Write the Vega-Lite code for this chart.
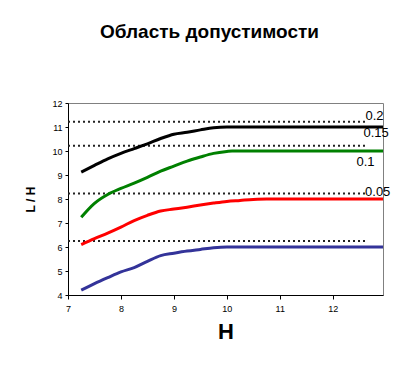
{
  "$schema": "https://vega.github.io/schema/vega-lite/v6.json",
  "width": 315,
  "height": 192,
  "autosize": "none",
  "padding": {"left": 68, "top": 103, "right": 29, "bottom": 75},
  "background": "white",
  "config": {
    "view": {"stroke": "#808080", "strokeWidth": 1},
    "font": "Liberation Sans"
  },
  "title": {
    "text": "Область допустимости",
    "fontSize": 19,
    "font": "Liberation Sans",
    "fontWeight": "bold",
    "letterSpacing": -1.3,
    "color": "black",
    "anchor": "middle",
    "offset": 57,
    "dx": -16
  },
  "datasets": {
    "curves": [
      {"s": "a", "x": 7.25, "y": 9.12}, {"s": "a", "x": 7.5, "y": 9.4}, {"s": "a", "x": 7.75, "y": 9.67}, {"s": "a", "x": 8.0, "y": 9.9}, {"s": "a", "x": 8.25, "y": 10.1}, {"s": "a", "x": 8.5, "y": 10.3}, {"s": "a", "x": 8.75, "y": 10.52}, {"s": "a", "x": 9.0, "y": 10.7}, {"s": "a", "x": 9.25, "y": 10.78}, {"s": "a", "x": 9.5, "y": 10.88}, {"s": "a", "x": 9.75, "y": 10.97}, {"s": "a", "x": 10.0, "y": 11.0}, {"s": "a", "x": 10.5, "y": 11.0}, {"s": "a", "x": 11.0, "y": 11.0}, {"s": "a", "x": 12.0, "y": 11.0}, {"s": "a", "x": 12.95, "y": 11.0},
      {"s": "b", "x": 7.25, "y": 7.24}, {"s": "b", "x": 7.5, "y": 7.82}, {"s": "b", "x": 7.75, "y": 8.19}, {"s": "b", "x": 8.0, "y": 8.44}, {"s": "b", "x": 8.25, "y": 8.66}, {"s": "b", "x": 8.5, "y": 8.9}, {"s": "b", "x": 8.75, "y": 9.16}, {"s": "b", "x": 9.0, "y": 9.37}, {"s": "b", "x": 9.25, "y": 9.58}, {"s": "b", "x": 9.5, "y": 9.75}, {"s": "b", "x": 9.75, "y": 9.9}, {"s": "b", "x": 10.0, "y": 9.98}, {"s": "b", "x": 10.1, "y": 10.0}, {"s": "b", "x": 11.0, "y": 10.0}, {"s": "b", "x": 12.0, "y": 10.0}, {"s": "b", "x": 12.95, "y": 10.0},
      {"s": "c", "x": 7.25, "y": 6.1}, {"s": "c", "x": 7.5, "y": 6.35}, {"s": "c", "x": 7.75, "y": 6.58}, {"s": "c", "x": 8.0, "y": 6.83}, {"s": "c", "x": 8.25, "y": 7.1}, {"s": "c", "x": 8.5, "y": 7.32}, {"s": "c", "x": 8.75, "y": 7.5}, {"s": "c", "x": 9.0, "y": 7.58}, {"s": "c", "x": 9.25, "y": 7.66}, {"s": "c", "x": 9.5, "y": 7.75}, {"s": "c", "x": 9.75, "y": 7.83}, {"s": "c", "x": 10.0, "y": 7.9}, {"s": "c", "x": 10.25, "y": 7.94}, {"s": "c", "x": 10.5, "y": 7.98}, {"s": "c", "x": 10.75, "y": 8.0}, {"s": "c", "x": 12.0, "y": 8.0}, {"s": "c", "x": 12.95, "y": 8.0},
      {"s": "d", "x": 7.25, "y": 4.2}, {"s": "d", "x": 7.5, "y": 4.47}, {"s": "d", "x": 7.75, "y": 4.72}, {"s": "d", "x": 8.0, "y": 4.96}, {"s": "d", "x": 8.25, "y": 5.14}, {"s": "d", "x": 8.5, "y": 5.4}, {"s": "d", "x": 8.75, "y": 5.64}, {"s": "d", "x": 9.0, "y": 5.74}, {"s": "d", "x": 9.25, "y": 5.83}, {"s": "d", "x": 9.5, "y": 5.9}, {"s": "d", "x": 9.75, "y": 5.97}, {"s": "d", "x": 10.0, "y": 6.0}, {"s": "d", "x": 11.0, "y": 6.0}, {"s": "d", "x": 12.0, "y": 6.0}, {"s": "d", "x": 12.95, "y": 6.0}
    ],
    "limits": [
      {"g": "0.2", "x": 7.0, "y": 11.22}, {"g": "0.2", "x": 12.64, "y": 11.22},
      {"g": "0.15", "x": 7.0, "y": 10.22}, {"g": "0.15", "x": 12.64, "y": 10.22},
      {"g": "0.1", "x": 7.0, "y": 8.23}, {"g": "0.1", "x": 12.64, "y": 8.23},
      {"g": "0.05", "x": 7.0, "y": 6.25}, {"g": "0.05", "x": 12.64, "y": 6.25}
    ],
    "labels": [
      {"t": "0.2", "x": 12.79, "y": 11.45},
      {"t": "0.15", "x": 12.82, "y": 10.76},
      {"t": "0.1", "x": 12.62, "y": 9.54},
      {"t": "0.05", "x": 12.85, "y": 8.3}
    ]
  },
  "encoding": {
    "x": {
      "field": "x", "type": "quantitative",
      "scale": {"domain": [7, 12.95], "nice": false, "zero": false},
      "axis": {
        "values": [7, 7.25, 7.5, 7.75, 8, 8.25, 8.5, 8.75, 9, 9.25, 9.5, 9.75, 10, 10.25, 10.5, 10.75, 11, 11.25, 11.5, 11.75, 12, 12.25, 12.5, 12.75],
        "format": "d",
        "labelExpr": "datum.value % 1 == 0 ? datum.label : ''",
        "title": "H",
        "titleFontSize": 22,
        "titleFontWeight": "bold",
        "titleColor": "black",
        "titlePadding": 8,
        "labelFontSize": 9,
        "labelColor": "black",
        "labelPadding": 5,
        "tickSize": 4,
        "tickColor": "black",
        "domainColor": "black",
        "grid": false,
        "labelFlush": false,
        "labelOverlap": false
      }
    },
    "y": {
      "field": "y", "type": "quantitative",
      "scale": {"domain": [4, 12], "nice": false, "zero": false},
      "axis": {
        "values": [4, 5, 6, 7, 8, 9, 10, 11, 12],
        "format": "d",
        "title": "L / H",
        "titleFontSize": 12,
        "titleFontWeight": "bold",
        "titleColor": "black",
        "titlePadding": 14,
        "labelFontSize": 9,
        "labelColor": "black",
        "labelPadding": 3,
        "labelOverlap": false,
        "labelFlush": false,
        "tickSize": 3,
        "tickColor": "black",
        "domainColor": "black",
        "grid": false
      }
    }
  },
  "layer": [
    {
      "data": {"name": "limits"},
      "mark": {"type": "line", "color": "#222222", "strokeWidth": 2, "strokeDash": [2, 3]},
      "encoding": {
        "detail": {"field": "g"}
      }
    },
    {
      "data": {"name": "curves"},
      "mark": {"type": "line", "strokeWidth": 3, "interpolate": "monotone"},
      "encoding": {
        "color": {
          "field": "s", "type": "nominal",
          "scale": {"domain": ["a", "b", "c", "d"], "range": ["#000000", "#008000", "#ff0000", "#333399"]},
          "legend": null
        }
      }
    },
    {
      "data": {"name": "labels"},
      "mark": {"type": "text", "fontSize": 13, "font": "Liberation Sans", "letterSpacing": -1, "color": "black", "clip": false},
      "encoding": {
        "text": {"field": "t"}
      }
    }
  ]
}
